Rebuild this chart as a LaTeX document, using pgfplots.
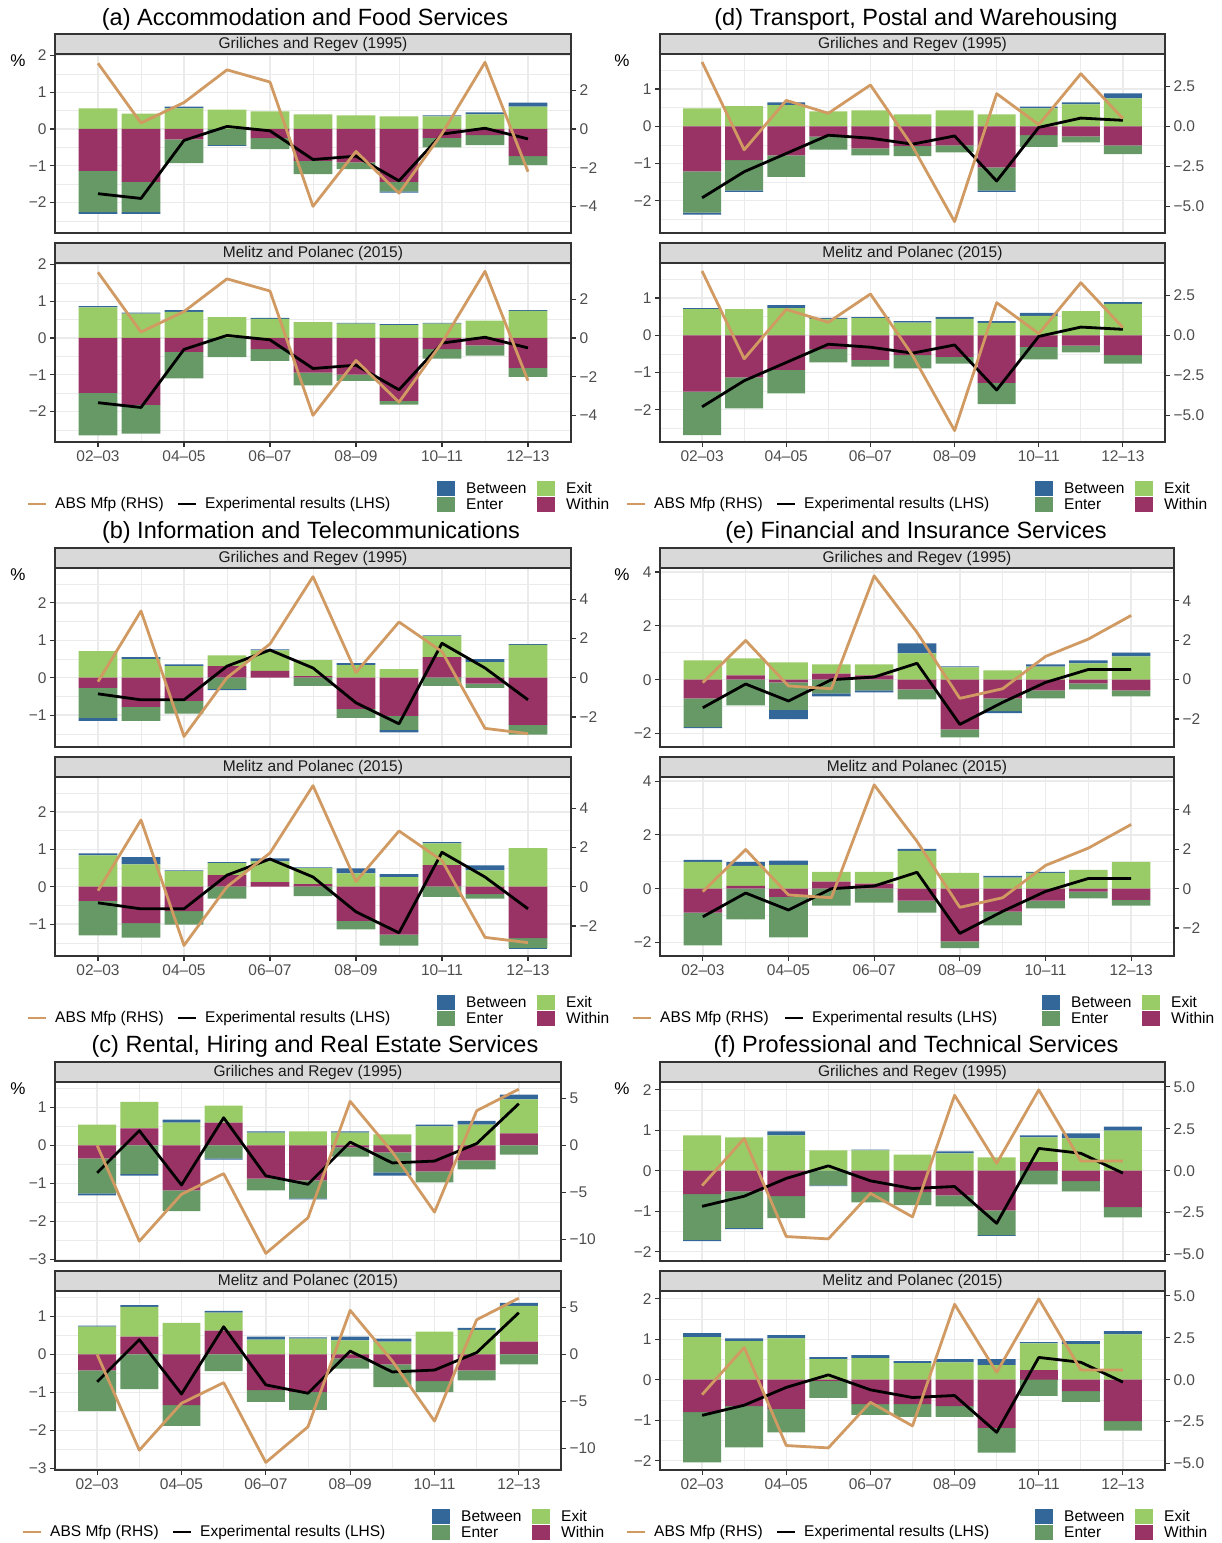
\documentclass[border=0pt]{standalone}
\usepackage{fontspec}
\setmainfont{Liberation Sans}
\usepackage{pgfplots}
\usepackage{pgfplotstable}
\pgfplotsset{compat=1.18}

\definecolor{cBetween}{HTML}{336699}
\definecolor{cEnter}{HTML}{669966}
\definecolor{cExit}{HTML}{99CC66}
\definecolor{cWithin}{HTML}{993366}
\definecolor{cTan}{HTML}{D09A62}
\definecolor{gridc}{HTML}{EBEBEB}
\definecolor{framec}{HTML}{333333}
\definecolor{stripc}{HTML}{D9D9D9}
\definecolor{tickc}{HTML}{4D4D4D}
\definecolor{stript}{HTML}{1A1A1A}

\newcommand{\tfont}{\fontsize{15.5}{18}\selectfont}
\newcommand{\ttfont}{\fontsize{23.5}{27}\selectfont}

% ---------------- data: x W(ithin) En(ter) Ex(it) B(etween) ----------------
\pgfplotstableread{
x W En Ex B
0 -1.14 -1.12 0.56 -0.05
1 -1.44 -0.82 0.42 -0.05
2 -0.28 -0.65 0.56 0.05
3 0.00 -0.44 0.53 -0.02
4 -0.25 -0.30 0.48 0.00
5 -0.87 -0.36 0.40 0.00
6 -0.91 -0.18 0.37 0.00
7 -1.44 -0.26 0.34 -0.03
8 -0.24 -0.26 0.34 0.03
9 -0.17 -0.27 0.40 0.05
10 -0.74 -0.24 0.61 0.11
}\aGR
\pgfplotstableread{
x W En Ex B
0 -1.49 -1.16 0.83 0.04
1 -1.82 -0.78 0.66 0.03
2 -0.38 -0.72 0.71 0.05
3 0.00 -0.52 0.57 0.00
4 -0.30 -0.32 0.52 0.03
5 -0.94 -0.35 0.43 0.00
6 -1.00 -0.17 0.39 0.02
7 -1.71 -0.10 0.35 0.03
8 -0.30 -0.26 0.39 0.02
9 -0.20 -0.28 0.47 0.00
10 -0.81 -0.25 0.74 0.02
}\aMP
\pgfplotstableread{
x T A
0 -1.76 3.40
1 -1.89 0.31
2 -0.31 1.37
3 0.07 3.06
4 -0.05 2.43
5 -0.83 -4.00
6 -0.74 -1.16
7 -1.41 -3.32
8 -0.14 -0.24
9 0.02 3.45
10 -0.27 -2.21
}\aL

\pgfplotstableread{
x W En Ex B
0 -1.21 -1.11 0.48 -0.05
1 -0.91 -0.81 0.54 -0.04
2 -0.78 -0.58 0.57 0.07
3 -0.28 -0.35 0.40 0.00
4 -0.59 -0.19 0.43 0.00
5 -0.53 -0.27 0.32 0.00
6 -0.51 -0.19 0.43 0.00
7 -1.10 -0.62 0.32 -0.04
8 -0.24 -0.31 0.48 0.05
9 -0.27 -0.16 0.59 0.05
10 -0.51 -0.24 0.75 0.13
}\dGR
\pgfplotstableread{
x W En Ex B
0 -1.51 -1.17 0.70 0.03
1 -1.13 -0.83 0.70 0.00
2 -0.93 -0.63 0.73 0.08
3 -0.37 -0.36 0.44 0.03
4 -0.66 -0.18 0.46 0.03
5 -0.53 -0.36 0.34 0.04
6 -0.58 -0.18 0.44 0.05
7 -1.28 -0.57 0.33 0.05
8 -0.31 -0.34 0.52 0.08
9 -0.28 -0.18 0.65 0.00
10 -0.53 -0.23 0.84 0.05
}\dMP
\pgfplotstableread{
x T A
0 -1.92 4.00
1 -1.22 -1.47
2 -0.73 1.61
3 -0.24 0.81
4 -0.32 2.57
5 -0.48 -1.25
6 -0.26 -5.94
7 -1.47 2.03
8 -0.03 0.10
9 0.22 3.27
10 0.16 0.48
}\dL

\pgfplotstableread{
x W En Ex B
0 -0.27 -0.80 0.71 -0.08
1 -0.78 -0.37 0.50 0.05
2 -0.62 -0.34 0.31 0.05
3 0.31 -0.30 0.29 -0.03
4 0.18 0.00 0.55 0.03
5 0.04 -0.22 0.43 0.00
6 -0.83 -0.24 0.34 0.05
7 -1.02 -0.37 0.23 -0.07
8 0.55 -0.22 0.56 0.02
9 -0.16 -0.11 0.42 0.08
10 -1.26 -0.26 0.88 0.02
}\bGR
\pgfplotstableread{
x W En Ex B
0 -0.38 -0.92 0.84 0.05
1 -0.97 -0.39 0.60 0.19
2 -0.65 -0.36 0.42 0.02
3 0.31 -0.32 0.32 0.03
4 0.12 0.00 0.56 0.08
5 0.07 -0.25 0.43 0.02
6 -0.91 -0.23 0.36 0.13
7 -1.28 -0.29 0.26 0.08
8 0.58 -0.27 0.58 0.03
9 -0.20 -0.12 0.44 0.13
10 -1.37 -0.26 1.03 -0.03
}\bMP
\pgfplotstableread{
x T A
0 -0.43 -0.20
1 -0.59 3.40
2 -0.59 -2.99
3 0.31 0.00
4 0.74 1.72
5 0.26 5.15
6 -0.67 0.27
7 -1.23 2.84
8 0.92 1.33
9 0.26 -2.58
10 -0.59 -2.85
}\bL

\pgfplotstableread{
x W En Ex B
0 -0.69 -1.07 0.72 -0.04
1 0.16 -0.95 0.63 0.00
2 -0.10 -1.02 0.64 -0.34
3 0.23 -0.51 0.34 -0.11
4 0.16 -0.40 0.41 -0.07
5 -0.36 -0.37 0.98 0.37
6 -1.84 -0.30 0.46 0.04
7 -0.69 -0.48 0.35 -0.07
8 -0.40 -0.29 0.49 0.08
9 -0.14 -0.22 0.61 0.11
10 -0.40 -0.22 0.87 0.14
}\eGR
\pgfplotstableread{
x W En Ex B
0 -0.89 -1.21 1.00 0.07
1 0.11 -1.14 0.74 0.15
2 -0.30 -1.51 0.89 0.15
3 0.26 -0.63 0.37 0.00
4 0.19 -0.52 0.44 0.00
5 -0.44 -0.45 1.41 0.07
6 -1.96 -0.25 0.59 0.00
7 -0.85 -0.51 0.41 0.07
8 -0.44 -0.29 0.59 0.04
9 -0.11 -0.25 0.70 0.00
10 -0.41 -0.22 1.00 0.00
}\eMP
\pgfplotstableread{
x T A
0 -1.04 -0.15
1 -0.16 1.99
2 -0.79 -0.32
3 0.00 -0.46
4 0.10 5.27
5 0.61 2.40
6 -1.66 -0.95
7 -0.84 -0.46
8 -0.10 1.18
9 0.38 2.06
10 0.38 3.26
}\eL

\pgfplotstableread{
x W En Ex B
0 -0.34 -0.92 0.55 -0.05
1 0.45 -0.75 0.70 -0.04
2 -1.18 -0.55 0.60 0.08
3 0.60 -0.34 0.45 -0.03
4 -0.87 -0.31 0.34 0.03
5 -0.92 -0.47 0.37 -0.03
6 -0.05 -0.24 0.34 0.03
7 -0.18 -0.53 0.29 -0.08
8 -0.68 -0.29 0.50 0.05
9 -0.39 -0.24 0.55 0.10
10 0.32 -0.24 0.89 0.13
}\cGR
\pgfplotstableread{
x W En Ex B
0 -0.42 -1.07 0.73 0.03
1 0.47 -0.91 0.78 0.05
2 -1.33 -0.55 0.83 0.00
3 0.63 -0.44 0.47 0.05
4 -0.94 -0.31 0.39 0.08
5 -0.99 -0.47 0.42 0.03
6 -0.10 -0.27 0.37 0.10
7 -0.26 -0.60 0.34 0.08
8 -0.70 -0.29 0.60 0.00
9 -0.42 -0.26 0.65 0.05
10 0.34 -0.26 0.94 0.08
}\cMP
\pgfplotstableread{
x T A
0 -0.72 0.0
1 0.39 -10.2
2 -1.04 -5.2
3 0.73 -3.0
4 -0.80 -11.5
5 -1.02 -7.7
6 0.09 4.7
7 -0.46 -0.7
8 -0.41 -7.1
9 0.05 3.7
10 1.10 6.0
}\cL

\pgfplotstableread{
x W En Ex B
0 -0.58 -1.13 0.87 -0.03
1 -0.51 -0.91 0.82 -0.02
2 -0.63 -0.54 0.87 0.10
3 0.00 -0.36 0.50 -0.02
4 -0.53 -0.25 0.50 0.02
5 -0.53 -0.32 0.40 0.00
6 -0.61 -0.27 0.43 0.05
7 -0.98 -0.61 0.33 -0.02
8 0.21 -0.34 0.61 0.05
9 -0.26 -0.25 0.80 0.12
10 -0.90 -0.25 0.99 0.10
}\fGR
\pgfplotstableread{
x W En Ex B
0 -0.80 -1.24 1.05 0.10
1 -0.65 -1.02 0.95 0.07
2 -0.72 -0.58 1.02 0.08
3 -0.03 -0.42 0.51 0.05
4 -0.60 -0.27 0.53 0.08
5 -0.60 -0.32 0.41 0.05
6 -0.65 -0.27 0.43 0.08
7 -1.19 -0.61 0.36 0.15
8 0.24 -0.40 0.66 0.03
9 -0.28 -0.27 0.88 0.07
10 -1.02 -0.24 1.12 0.08
}\fMP
\pgfplotstableread{
x T A
0 -0.88 -0.89
1 -0.63 1.92
2 -0.19 -3.93
3 0.12 -4.07
4 -0.25 -1.35
5 -0.44 -2.76
6 -0.39 4.50
7 -1.30 0.44
8 0.55 4.82
9 0.43 0.58
10 -0.06 0.58
}\fL

% ---------------- styles ----------------
\pgfplotsset{
  common/.style={scale only axis, height=179pt, anchor=north west, xmin=-1, xmax=11},
  base/.style={common,
    axis line style={draw=framec, line width=1.1pt},
    ybar stacked, bar width=0.9,
    xtick={0,2,...,10}, minor xtick={1,3,...,9},
    xmajorgrids, xminorgrids, ymajorgrids, yminorgrids,
    major grid style={draw=gridc, line width=1.4pt},
    minor grid style={draw=gridc, line width=0.7pt},
    tick align=outside, major tick length=5pt, minor tick length=0pt,
    tick style={draw=framec, line width=1.1pt},
    xtick pos=left, ytick pos=left,
    tick label style={font=\tfont, text=tickc},
  },
  topx/.style={xticklabels={}, x tick style={draw=none}},
  botx/.style={xticklabels={02–03,04–05,06–07,08–09,10–11,12–13}},
  over/.style={common, hide axis},
  rightax/.style={common, axis x line=none, axis y line*=right,
    y axis line style={draw=none},
    tick align=outside, major tick length=5pt, minor tick length=0pt,
    tick style={draw=framec, line width=1.1pt},
    tick label style={font=\tfont, text=tickc}},
  La/.style={ymin=-2.83, ymax=2.04, ytick={-2,-1,0,1,2}, yticklabels={−2,−1,0,1,2}, minor ytick={-2.5,-1.5,-0.5,0.5,1.5}},
  Ra/.style={ymin=-5.38, ymax=3.88, ytick={-4,-2,0,2}, yticklabels={−4,−2,0,2}},
  Ld/.style={ymin=-2.865, ymax=1.94, ytick={-2,-1,0,1}, yticklabels={−2,−1,0,1}, minor ytick={-2.5,-1.5,-0.5,0.5,1.5}},
  Rd/.style={ymin=-6.65, ymax=4.50, ytick={-5,-2.5,0,2.5}, yticklabels={−5.0,−2.5,0.0,2.5}},
  Lb/.style={ymin=-1.85, ymax=2.93, ytick={-1,0,1,2}, yticklabels={−1,0,1,2}, minor ytick={-1.5,-0.5,0.5,1.5,2.5}},
  Rb/.style={ymin=-3.53, ymax=5.59, ytick={-2,0,2,4}, yticklabels={−2,0,2,4}},
  Le/.style={ymin=-2.50, ymax=4.15, ytick={-2,0,2,4}, yticklabels={−2,0,2,4}, minor ytick={-1,1,3}},
  Re/.style={ymin=-3.42, ymax=5.67, ytick={-2,0,2,4}, yticklabels={−2,0,2,4}},
  Lc/.style={ymin=-3.04, ymax=1.67, ytick={-3,-2,-1,0,1}, yticklabels={−3,−2,−1,0,1}, minor ytick={-2.5,-1.5,-0.5,0.5,1.5}},
  Rc/.style={ymin=-12.31, ymax=6.76, ytick={-10,-5,0,5}, yticklabels={−10,−5,0,5}},
  Lf/.style={ymin=-2.23, ymax=2.19, ytick={-2,-1,0,1,2}, yticklabels={−2,−1,0,1,2}, minor ytick={-1.5,-0.5,0.5,1.5}},
  Rf/.style={ymin=-5.39, ymax=5.29, ytick={-5,-2.5,0,2.5,5}, yticklabels={−5.0,−2.5,0.0,2.5,5.0}},
}

% ybar stacked in pgfplots 1.18 stacks negative values separately from positive ones
\newcommand{\barset}[1]{%
  \addplot[fill=cWithin, draw=none] table[x=x, y expr={min(\thisrow{W},0)}]{#1};
  \addplot[fill=cEnter, draw=none] table[x=x, y expr={min(\thisrow{En},0)}]{#1};
  \addplot[fill=cBetween, draw=none] table[x=x, y expr={min(\thisrow{B},0)}]{#1};
  \addplot[fill=cWithin, draw=none] table[x=x, y expr={max(\thisrow{W},0)}]{#1};
  \addplot[fill=cExit, draw=none] table[x=x, y expr={max(\thisrow{Ex},0)}]{#1};
  \addplot[fill=cEnter, draw=none] table[x=x, y expr={max(\thisrow{En},0)}]{#1};
  \addplot[fill=cBetween, draw=none] table[x=x, y expr={max(\thisrow{B},0)}]{#1};
}

% #1 x0, #2 ytop, #3 width, #4 panel letter, #5 bar table, #6 line table, #7 strip text, #8 topx/botx
\newcommand{\facet}[8]{%
  \begin{axis}[base, at={(#1pt,-#2pt)}, width=#3pt, L#4, #8]
    \barset{#5}
  \end{axis}
  \begin{axis}[over, at={(#1pt,-#2pt)}, width=#3pt, L#4]
    \addplot[black, line width=2.8pt, line join=round] table[x=x, y=T]{#6};
  \end{axis}
  \begin{axis}[rightax, at={(#1pt,-#2pt)}, width=#3pt, R#4]
    \addplot[cTan, line width=2.8pt, line join=round] table[x=x, y=A]{#6};
  \end{axis}
  \node[draw=framec, fill=stripc, line width=1.1pt, minimum width=#3pt, minimum height=20pt,
        inner sep=0pt, outer sep=0pt, anchor=south west, font=\tfont, text=stript]
        at (#1pt,-#2pt) {#7};}

% legend: #1 tan key x, #2 black key x, #3 Between box x, #4 first row centre y
\newcommand{\leg}[4]{%
  \begin{scope}[x=1pt, y=-1pt, every node/.style={anchor=west, font=\tfont, inner sep=0pt}]
    \draw[cTan, line width=2.8pt] (#1,{#4+16}) -- ({#1+18},{#4+16});
    \node at ({#1+27},{#4+16}) {ABS Mfp (RHS)};
    \draw[black, line width=2.8pt] (#2,{#4+16}) -- ({#2+18},{#4+16});
    \node at ({#2+27},{#4+16}) {Experimental results (LHS)};
    \fill[cBetween] (#3,{#4-7.5}) rectangle ({#3+18},{#4+7.5});
    \node at ({#3+29},#4) {Between};
    \fill[cEnter] (#3,{#4+8.5}) rectangle ({#3+18},{#4+23.5});
    \node at ({#3+29},{#4+16}) {Enter};
    \fill[cExit] ({#3+100},{#4-7.5}) rectangle ({#3+118},{#4+7.5});
    \node at ({#3+129},#4) {Exit};
    \fill[cWithin] ({#3+100},{#4+8.5}) rectangle ({#3+118},{#4+23.5});
    \node at ({#3+129},{#4+16}) {Within};
  \end{scope}}

\begin{document}
\begin{tikzpicture}
\path[use as bounding box] (0pt,0pt) rectangle (1222pt,-1543pt);

% titles
\begin{scope}[x=1pt, y=-1pt]
\node[font=\ttfont] at (305,19) {(a) Accommodation and Food Services};
\node[font=\ttfont] at (916,19) {(d) Transport, Postal and Warehousing};
\node[font=\ttfont] at (311,532) {(b) Information and Telecommunications};
\node[font=\ttfont] at (916,532) {(e) Financial and Insurance Services};
\node[font=\ttfont] at (315,1046) {(c) Rental, Hiring and Real Estate Services};
\node[font=\ttfont] at (916,1046) {(f) Professional and Technical Services};
\foreach \px/\py in {18/61, 622/61, 18/575, 622/575, 18/1089, 622/1089}
  \node[font=\fontsize{17}{20}\selectfont] at (\px,\py) {\%};
\end{scope}

% (a)
\facet{55}{54}{516}{a}{\aGR}{\aL}{Griliches and Regev (1995)}{topx}
\facet{55}{263}{516}{a}{\aMP}{\aL}{Melitz and Polanec (2015)}{botx}
\leg{28}{178}{437}{488}
% (d)
\facet{660}{54}{505}{d}{\dGR}{\dL}{Griliches and Regev (1995)}{topx}
\facet{660}{263}{505}{d}{\dMP}{\dL}{Melitz and Polanec (2015)}{botx}
\leg{627}{777}{1035}{488}
% (b)
\facet{55}{568}{516}{b}{\bGR}{\bL}{Griliches and Regev (1995)}{topx}
\facet{55}{777}{516}{b}{\bMP}{\bL}{Melitz and Polanec (2015)}{botx}
\leg{28}{178}{437}{1002}
% (e)
\facet{660}{568}{514}{e}{\eGR}{\eL}{Griliches and Regev (1995)}{topx}
\facet{660}{777}{514}{e}{\eMP}{\eL}{Melitz and Polanec (2015)}{botx}
\leg{633}{785}{1042}{1002}
% (c)
\facet{55}{1082}{506}{c}{\cGR}{\cL}{Griliches and Regev (1995)}{topx}
\facet{55}{1291}{506}{c}{\cMP}{\cL}{Melitz and Polanec (2015)}{botx}
\leg{23}{173}{432}{1516}
% (f)
\facet{660}{1082}{505}{f}{\fGR}{\fL}{Griliches and Regev (1995)}{topx}
\facet{660}{1291}{505}{f}{\fMP}{\fL}{Melitz and Polanec (2015)}{botx}
\leg{627}{777}{1035}{1516}
\end{tikzpicture}
\end{document}
